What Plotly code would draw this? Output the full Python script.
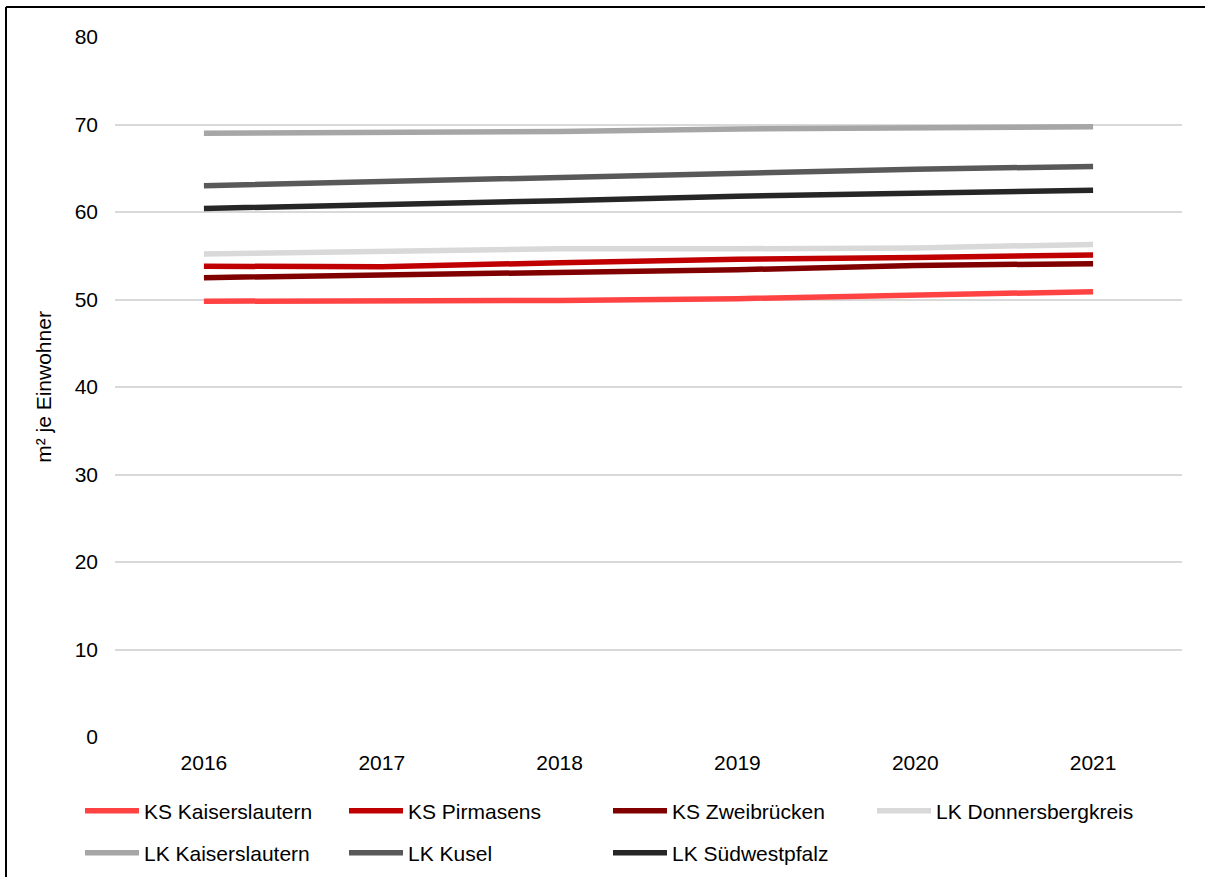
import plotly.graph_objects as go

years = ["2016", "2017", "2018", "2019", "2020", "2021"]
series_names = ["KS Kaiserslautern", "KS Pirmasens", "KS Zweibrücken", "LK Donnersbergkreis",
                "LK Kaiserslautern", "LK Kusel", "LK Südwestpfalz"]
ks_kaiserslautern = [49.8, 49.8, 49.9, 50.1, 50.5, 50.9]
ks_pirmasens = [53.8, 53.75, 54.2, 54.6, 54.8, 55.1]
ks_zweibruecken = [52.5, 52.8, 53.2, 53.4, 53.9, 54.1]
lk_donnersbergkreis = [55.2, 55.5, 55.8, 55.8, 55.9, 56.3]
lk_kaiserslautern = [69.0, 69.1, 69.2, 69.5, 69.7, 69.75]
lk_kusel = [63.0, 63.5, 64.0, 64.5, 64.9, 65.2]
lk_suedwestpfalz = [60.4, 60.8, 61.3, 61.8, 62.1, 62.5]
y_ticks = [0, 10, 20, 30, 40, 50, 60, 70, 80]

values = [ks_kaiserslautern, ks_pirmasens, ks_zweibruecken, lk_donnersbergkreis,
          lk_kaiserslautern, lk_kusel, lk_suedwestpfalz]
colors = ["#FF4343", "#C00000", "#800000", "#D9D9D9", "#A6A6A6", "#595959", "#262626"]
legend_rows = ["legend", "legend", "legend", "legend", "legend2", "legend2", "legend2"]

fig = go.Figure()
for name, vals, col, lg in zip(series_names, values, colors, legend_rows):
    fig.add_trace(go.Scatter(x=years, y=vals, name=name, mode="lines", legend=lg,
                             line=dict(color=col, width=5.5)))

FONT = "Liberation Sans, Arial, sans-serif"
FS = 21
W, H = 1205, 877
ml, mr, mt, mb = 115, 1205 - 1182, 37, 877 - 737
pw, ph = W - ml - mr, H - mt - mb
plot_bottom = H - mb

legend_common = dict(orientation="h", x=(80 - ml) / pw, xanchor="left", yanchor="middle",
                     entrywidth=195, entrywidthmode="pixels", itemwidth=54,
                     font=dict(family=FONT, size=FS, color="#000000"), bgcolor="rgba(0,0,0,0)")

bx = (6 - ml) / pw
by = (plot_bottom - 7) / ph

fig.update_layout(
    width=W, height=H,
    margin=dict(l=ml, r=mr, t=mt, b=mb, pad=0, autoexpand=False),
    paper_bgcolor="white", plot_bgcolor="white",
    font=dict(family=FONT, size=FS, color="#000000"),
    showlegend=True,
    legend=dict(**legend_common, y=-(811 - plot_bottom) / ph),
    legend2=dict(**legend_common, y=-(853 - plot_bottom) / ph),
    xaxis=dict(type="category", range=[-0.5, 5.5], showgrid=False, zeroline=False,
               showline=False, ticks="", ticklabelstandoff=11,
               tickfont=dict(family=FONT, size=FS)),
    yaxis=dict(range=[0, 80], tickvals=y_ticks, showgrid=True, gridcolor="#D9D9D9",
               gridwidth=1.5, zeroline=False, showline=False, ticks="",
               ticklabelstandoff=16,
               title=dict(text="m² je Einwohner", font=dict(family=FONT, size=FS), standoff=17),
               tickfont=dict(family=FONT, size=FS)),
    shapes=[
        dict(type="line", xref="paper", yref="paper", x0=bx, x1=bx, y0=-0.3, y1=by,
             line=dict(color="black", width=2), layer="below"),
        dict(type="line", xref="paper", yref="paper", x0=bx, x1=1.05, y0=by, y1=by,
             line=dict(color="black", width=2), layer="below"),
    ],
)

fig.write_html("out.html", config={"displayModeBar": False},
               post_script="document.body.style.margin='0';")
